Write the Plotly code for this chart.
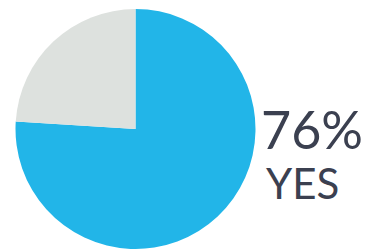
import plotly.graph_objects as go

labels = ["Yes", "No"]
values = [76, 24]
colors = ["#22b5e8", "#dde1de"]
big_text = "76%"
sub_text = "YES"

W, H = 370, 251

fig = go.Figure(go.Pie(
    labels=labels, values=values, sort=False, direction="clockwise", rotation=0,
    marker=dict(colors=colors, line=dict(width=0)),
    textinfo="none", hoverinfo="label+percent", showlegend=False,
    domain=dict(x=[15 / W, 256 / W], y=[1 - 249 / H, 1 - 9 / H]),
))

fig.add_annotation(text=big_text, x=259 / W, y=1 - 129 / H, xref="paper", yref="paper",
                   xanchor="left", yanchor="middle", showarrow=False,
                   font=dict(family="Lato", size=52, color="#3b4050"))
fig.add_annotation(text=sub_text, x=264 / W, y=1 - 183 / H, xref="paper", yref="paper",
                   xanchor="left", yanchor="middle", showarrow=False,
                   font=dict(family="Lato", size=42, color="#3b4050"))

fig.update_layout(width=W, height=H, margin=dict(l=0, r=0, t=0, b=0),
                  paper_bgcolor="white", plot_bgcolor="white")
fig.write_html("out.html", config={"displayModeBar": False},
               post_script="document.body.style.margin='0';")
